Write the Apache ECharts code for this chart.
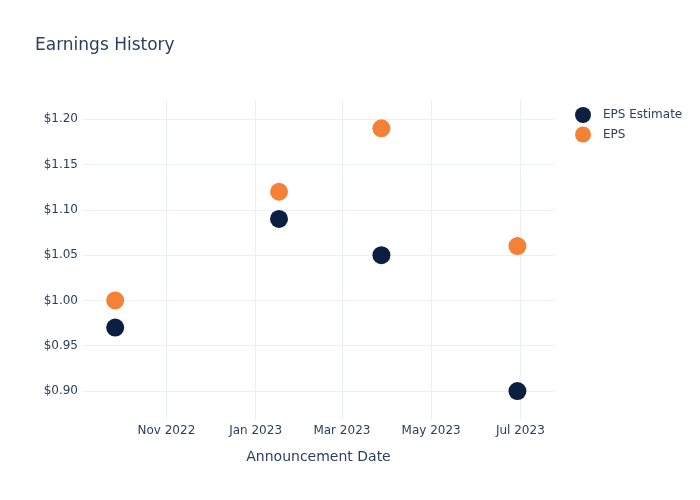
<!DOCTYPE html>
<html><head><meta charset="utf-8">
<script src="https://cdn.jsdelivr.net/npm/echarts@6/dist/echarts.min.js"></script>
<style>html,body{margin:0;padding:0;background:#fff}#c{width:700px;height:500px}</style>
</head><body><div id="c"></div>
<script>
var dates = ['2022-09-27', '2023-01-17', '2023-03-28', '2023-06-29'];
var epsEstimate = [0.97, 1.09, 1.05, 0.90];
var eps = [1.00, 1.12, 1.19, 1.06];
var xTickDates = ['2022-11-01', '2023-01-01', '2023-03-01', '2023-05-01', '2023-07-01'];
var xTickLabels = ['Nov 2022', 'Jan 2023', 'Mar 2023', 'May 2023', 'Jul 2023'];
var yTicks = [0.90, 0.95, 1.00, 1.05, 1.10, 1.15, 1.20];

var font = '"DejaVu Sans", "Open Sans", sans-serif';
var txt = '#2a3f5f';
var grid = '#ebf0f8';
function ts(d){ return new Date(d + 'T00:00:00Z').getTime(); }
var tickTs = xTickDates.map(ts);
var labelMap = {};
tickTs.forEach(function(t,i){ labelMap[t] = xTickLabels[i]; });

var chart = echarts.init(document.getElementById('c'), null, {renderer:'canvas'});
chart.setOption({
  animation:false,
  backgroundColor:'#fff',
  title:{text:'Earnings History', left:30, top:32, textStyle:{fontFamily:font, fontSize:17, fontWeight:'normal', color:txt}},
  legend:{left:570, top:102, orient:'vertical', itemGap:3.5, itemWidth:16, itemHeight:16, icon:'circle',
    textStyle:{fontFamily:font, fontSize:12, color:txt, padding:[0,0,0,7]},
    data:['EPS Estimate','EPS']},
  grid:{left:83, right:146, top:100, bottom:80, containLabel:false},
  xAxis:{type:'value', min:ts('2022-09-05'), max:ts('2023-07-24'),
    name:'Announcement Date', nameLocation:'middle', nameGap:30,
    nameTextStyle:{fontFamily:font, fontSize:14, color:txt},
    axisLine:{show:false}, axisTick:{show:false, customValues:tickTs},
    axisLabel:{customValues:tickTs, fontFamily:font, fontSize:12, color:txt, margin:5,
      formatter:function(v){ return labelMap[v] || ''; }},
    splitLine:{show:true, lineStyle:{color:grid, width:1}}},
  yAxis:{type:'value', min:0.868, max:1.2213,
    axisLine:{show:false}, axisTick:{show:false, customValues:yTicks},
    axisLabel:{customValues:yTicks, fontFamily:font, fontSize:12, color:txt, margin:5,
      formatter:function(v){ return '$' + v.toFixed(2); }},
    splitLine:{show:true, lineStyle:{color:grid, width:1}}},
  series:[
    {name:'EPS Estimate', type:'scatter', symbolSize:18, itemStyle:{color:'#0b1f41', opacity:1},
      data:dates.map(function(d,i){ return [ts(d), epsEstimate[i]]; })},
    {name:'EPS', type:'scatter', symbolSize:18, itemStyle:{color:'#f58137', opacity:1},
      data:dates.map(function(d,i){ return [ts(d), eps[i]]; })}
  ]
});
</script></body></html>
